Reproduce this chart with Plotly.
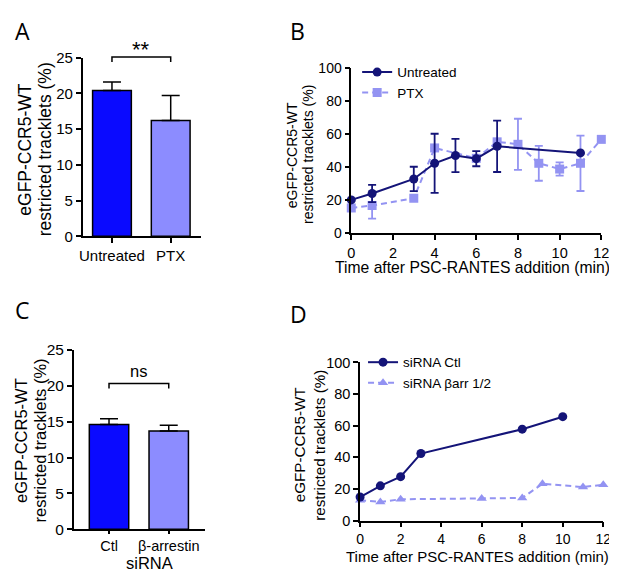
import plotly.graph_objects as go

# panel A - bars
a_groups = ["Untreated", "PTX"]
a_values = [20.4, 16.2]
a_errors = [1.2, 3.5]
a_sig_label = "**"
a_sig_y = 25.1

# panel B - time course, untreated vs PTX
b_time_untreated = [0, 1, 3, 4, 5, 6, 7, 11]
b_untreated = [20.3, 24.2, 33.0, 42.5, 47.2, 45.3, 52.8, 48.8]
b_untreated_err = [0, 5.2, 7.4, 17.9, 10.1, 4.6, 15.6, 0]
b_time_ptx = [0, 1, 3, 4, 6, 7, 8, 9, 10, 11, 12]
b_ptx = [15.4, 16.9, 21.3, 51.8, 45.5, 55.5, 54.0, 42.5, 39.0, 42.5, 57.0]
b_ptx_err = [0, 8.0, 0, 0, 0, 0, 15.5, 10.6, 4.0, 16.8, 0]

# panel C - bars
c_groups = ["Ctl", "β-arrestin"]
c_values = [14.6, 13.7]
c_errors = [0.8, 0.8]
c_sig_label = "ns"
c_sig_y = 20.3

# panel D - time course, siRNA
d_time_ctl = [0, 1, 2, 3, 8, 10]
d_ctl = [14.9, 22.0, 27.8, 42.4, 57.8, 65.7]
d_time_barr = [0, 1, 2, 6, 8, 9, 11, 12]
d_barr = [12.9, 11.8, 13.5, 13.9, 14.3, 23.3, 21.2, 22.7]

y_title_lines = ["eGFP-CCR5-WT", "restricted tracklets (%)"]
x_title = "Time after PSC-RANTES addition (min)"

BLUE = "#0a0aff"
LIGHT_BAR = "#8c8cff"
NAVY = "#141478"
LIGHT = "#9393f2"
W, H = 617, 573


def px(x):
    return x / W


def py(y):
    return 1 - y / H


fig = go.Figure()

# A
fig.add_trace(go.Bar(
    x=a_groups, y=a_values, xaxis="x", yaxis="y",
    marker=dict(color=[BLUE, LIGHT_BAR], line=dict(color="black", width=1.5)),
    width=0.66, showlegend=False,
    error_y=dict(type="data", array=a_errors, arrayminus=[0, 0], symmetric=False,
                 color="black", thickness=1.5, width=9),
))

# B
fig.add_trace(go.Scatter(
    x=b_time_ptx, y=b_ptx, xaxis="x2", yaxis="y2", name="PTX", legend="legend",
    mode="lines+markers", cliponaxis=False,
    line=dict(color=LIGHT, width=2, dash="6px,4px"),
    marker=dict(symbol="square", size=9, color=LIGHT),
    error_y=dict(type="data", array=b_ptx_err, color=LIGHT, thickness=1.8, width=4),
))
fig.add_trace(go.Scatter(
    x=b_time_untreated, y=b_untreated, xaxis="x2", yaxis="y2", name="Untreated",
    legend="legend", mode="lines+markers", cliponaxis=False,
    line=dict(color=NAVY, width=2),
    marker=dict(symbol="circle", size=9, color=NAVY),
    error_y=dict(type="data", array=b_untreated_err, color=NAVY, thickness=1.8, width=4),
))

# C
fig.add_trace(go.Bar(
    x=c_groups, y=c_values, xaxis="x3", yaxis="y3",
    marker=dict(color=[BLUE, LIGHT_BAR], line=dict(color="black", width=1.5)),
    width=0.66, showlegend=False,
    error_y=dict(type="data", array=c_errors, arrayminus=[0, 0], symmetric=False,
                 color="black", thickness=1.5, width=9),
))

# D
fig.add_trace(go.Scatter(
    x=d_time_barr, y=d_barr, xaxis="x4", yaxis="y4", name="siRNA βarr 1/2",
    legend="legend2", mode="lines+markers", cliponaxis=False,
    line=dict(color=LIGHT, width=2, dash="6px,4px"),
    marker=dict(symbol="triangle-up", size=9, color=LIGHT),
))
fig.add_trace(go.Scatter(
    x=d_time_ctl, y=d_ctl, xaxis="x4", yaxis="y4", name="siRNA Ctl",
    legend="legend2", mode="lines+markers", cliponaxis=False,
    line=dict(color=NAVY, width=2),
    marker=dict(symbol="circle", size=9, color=NAVY),
))


def ax(size, ticklen=5):
    return dict(showline=True, linecolor="black", linewidth=1.5, ticks="outside",
                ticklen=ticklen, tickwidth=1.5, tickcolor="black", showgrid=False,
                zeroline=False, tickfont=dict(size=size, color="black"))


fig.update_layout(
    width=W, height=H, autosize=False,
    margin=dict(l=0, r=0, t=0, b=0),
    paper_bgcolor="white", plot_bgcolor="white",
    font=dict(family="Liberation Sans, Arial, sans-serif", size=14, color="black"),
    xaxis=dict(ax(15), domain=[px(72), px(193)], range=[-0.5, 1.52], anchor="y"),
    yaxis=dict(ax(15), domain=[py(226), py(42)], range=[0, 25], dtick=5, anchor="x"),
    xaxis2=dict(ax(14.5), domain=[px(346), px(601)], range=[0, 12], dtick=2, anchor="y2"),
    yaxis2=dict(ax(14), domain=[py(223), py(53)], range=[0, 100], dtick=20, anchor="x2"),
    xaxis3=dict(ax(14.5, 3), domain=[px(63), px(197)], range=[-0.59, 1.61], anchor="y3"),
    yaxis3=dict(ax(15.5), domain=[py(528), py(343)], range=[0, 25], dtick=5, anchor="x3"),
    xaxis4=dict(ax(14), domain=[px(355), px(603)], range=[0, 12], dtick=2, anchor="y4"),
    yaxis4=dict(ax(14.5), domain=[py(519), py(356)], range=[0, 100], dtick=20, anchor="x4"),
    legend=dict(x=px(352), y=py(41), xanchor="left", yanchor="top",
                traceorder="reversed", bgcolor="rgba(0,0,0,0)",
                font=dict(size=13.5)),
    legend2=dict(x=px(358), y=py(340), xanchor="left", yanchor="top",
                 traceorder="reversed", bgcolor="rgba(0,0,0,0)",
                 font=dict(size=13.5)),
)

# significance brackets
for xref, yref, top, label, lab_y, size in [
        ("x", "y domain", a_sig_y / 25, a_sig_label, 34, 22),
        ("x3", "y3 domain", c_sig_y / 25, c_sig_label, 365, 16.5)]:
    fig.add_shape(type="path", xref=xref, yref=yref,
                  path=f"M 0,{top - 0.028} L 0,{top} L 1,{top} L 1,{top - 0.028}",
                  line=dict(color="black", width=1.5))
    fig.add_annotation(x=0.5, y=py(lab_y), xref=xref, yref="paper", text=label,
                       showarrow=False, font=dict(size=size),
                       xanchor="center", yanchor="middle")

# y axis titles, one annotation per line
for x1, x2, yc, size in [(13, 34, 136, 17.5), (285, 302, 142, 14),
                         (9, 29, 436, 16.5), (294, 314, 441, 15.2)]:
    for x, t in [(x1, y_title_lines[0]), (x2, y_title_lines[1])]:
        fig.add_annotation(x=px(x), y=py(yc), xref="paper", yref="paper", text=t,
                           textangle=-90, showarrow=False, font=dict(size=size),
                           xanchor="center", yanchor="middle")

# x axis titles
for x, y, t, size, anchor in [(470, 258, x_title, 15.7, "middle"),
                              (475, 556, x_title, 15, "middle"),
                              (140, 573, "siRNA", 16.5, "bottom")]:
    fig.add_annotation(x=px(x), y=py(y), xref="paper", yref="paper", text=t,
                       showarrow=False, font=dict(size=size), borderpad=0,
                       xanchor="center", yanchor=anchor)

# panel letters
for x, y, t in [(1, 14, "A"), (281, 14, "B"), (1, 302, "C"), (281, 306, "D")]:
    fig.add_annotation(x=px(x), y=py(y), xref="paper", yref="paper", text=t,
                       showarrow=False, font=dict(family="Open Sans", size=23),
                       xanchor="left", yanchor="middle")

fig.write_html("out.html")
